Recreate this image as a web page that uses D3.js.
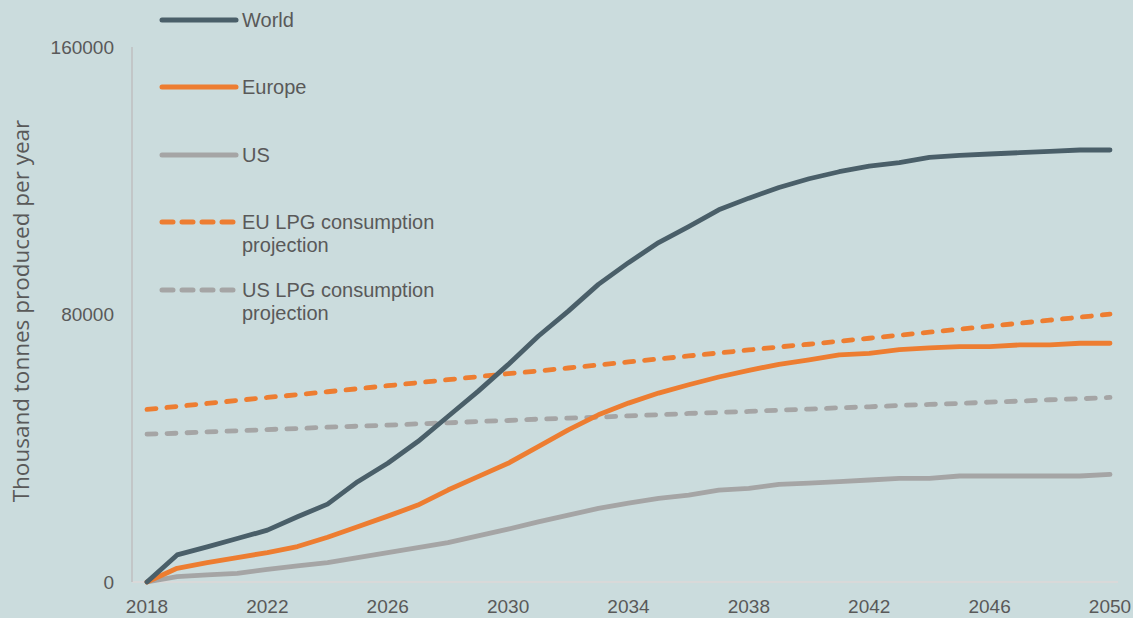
<!DOCTYPE html>
<html><head><meta charset="utf-8">
<script src="https://cdn.jsdelivr.net/npm/d3@7"></script>
<style>
body{margin:0;background:#cbdcdd;}
svg{display:block;}
text{font-family:"Liberation Sans",Arial,sans-serif;fill:#595959;}
</style></head>
<body><svg id="c" width="1133" height="618"></svg>
<script>
const years = d3.range(2018, 2051);
const world = [0,8.1,10.5,13,15.5,19.5,23.3,30,35.5,42,49.5,57,65,73.5,81,89,95.5,101.5,106.3,111.3,114.8,118,120.6,122.7,124.4,125.4,127,127.6,128,128.4,128.8,129.2,129.2].map(v=>v*1000);
const europe = [0,4.1,5.8,7.3,8.8,10.6,13.4,16.5,19.7,23,27.5,31.5,35.5,40.5,45.5,50,53.5,56.5,59,61.3,63.3,65.1,66.4,67.9,68.4,69.5,70,70.4,70.4,70.9,70.9,71.4,71.4].map(v=>v*1000);
const us = [0,1.6,2.1,2.6,3.8,4.8,5.8,7.3,8.8,10.3,11.8,13.8,15.8,18,20,22,23.6,25,26,27.5,28,29.2,29.6,30,30.5,31,31,31.7,31.7,31.7,31.7,31.7,32.2].map(v=>v*1000);
const euLpg = [51.6,52.5,53.4,54.3,55.2,56,56.9,57.8,58.7,59.6,60.5,61.4,62.3,63.1,64,64.9,65.8,66.7,67.6,68.5,69.4,70.3,71.1,72,72.9,73.8,74.7,75.6,76.5,77.4,78.3,79.2,80.1].map(v=>v*1000);
const usLpg = [44.2,44.5,44.9,45.2,45.6,45.9,46.3,46.6,46.9,47.3,47.6,48,48.3,48.7,49,49.3,49.7,50,50.4,50.7,51,51.4,51.7,52.1,52.4,52.8,53.1,53.4,53.8,54.1,54.5,54.8,55.2].map(v=>v*1000);
const xTicks = [2018,2022,2026,2030,2034,2038,2042,2046,2050];
const yTicks = [0,80000,160000];
const seriesNames = ["World","Europe","US","EU LPG consumption projection","US LPG consumption projection"];

const svg = d3.select("#c");
const x = d3.scaleLinear().domain([2018,2050]).range([147,1110]);
const y = d3.scaleLinear().domain([0,160000]).range([582,47]);

// axes
svg.append("line").attr("x1",132).attr("x2",1118).attr("y1",582).attr("y2",582).attr("stroke","#d9d9d9").attr("stroke-width",2);
svg.append("line").attr("x1",132).attr("x2",132).attr("y1",47).attr("y2",582).attr("stroke","#bfbfbf").attr("stroke-width",1.5);

svg.selectAll(".yt").data(yTicks).enter().append("text")
  .attr("x",114).attr("y",d=>y(d)).attr("dy","0.35em").attr("text-anchor","end")
  .attr("font-size",19).text(d=>d);
svg.selectAll(".xt").data(xTicks).enter().append("text")
  .attr("x",d=>x(d)).attr("y",606).attr("dy","0.35em").attr("text-anchor","middle")
  .attr("font-size",19).text(d=>d);
svg.append("text").attr("transform","translate(29,311) rotate(-90)").attr("text-anchor","middle")
  .style("font-family","'Open Sans','Noto Sans',sans-serif")
  .attr("font-size",22.5).text("Thousand tonnes produced per year");

const line = d3.line().x((d,i)=>x(years[i])).y(d=>y(d));
const series = [
  {name:seriesNames[0], data:world, color:"#4a5f69", dash:null},
  {name:seriesNames[1], data:europe, color:"#ed7d31", dash:null},
  {name:seriesNames[2], data:us, color:"#a5a5a5", dash:null},
  {name:seriesNames[3], data:euLpg, color:"#ed7d31", dash:"9,11"},
  {name:seriesNames[4], data:usLpg, color:"#a5a5a5", dash:"9,11"}
];
const drawOrder = [3,4,2,1,0];
drawOrder.forEach(i=>{
  const s = series[i];
  svg.append("path").attr("d",line(s.data)).attr("fill","none").attr("stroke",s.color)
    .attr("stroke-width",4.8).attr("stroke-linecap","round").attr("stroke-linejoin","round")
    .attr("stroke-dasharray",s.dash);
});

// legend
const legY = [20,87,155,222,290];
series.forEach((s,i)=>{
  svg.append("line").attr("x1",162).attr("x2",236).attr("y1",legY[i]).attr("y2",legY[i])
    .attr("stroke",s.color).attr("stroke-width",5).attr("stroke-linecap","round")
    .attr("stroke-dasharray",s.dash?"11,9":null);
  const words = s.name.includes("projection") ? [s.name.replace(" projection",""),"projection"] : [s.name];
  words.forEach((w,j)=>{
    svg.append("text").attr("x",242).attr("y",legY[i]+j*23).attr("dy","0.35em")
      .attr("font-size",20).text(w);
  });
});
</script></body></html>
